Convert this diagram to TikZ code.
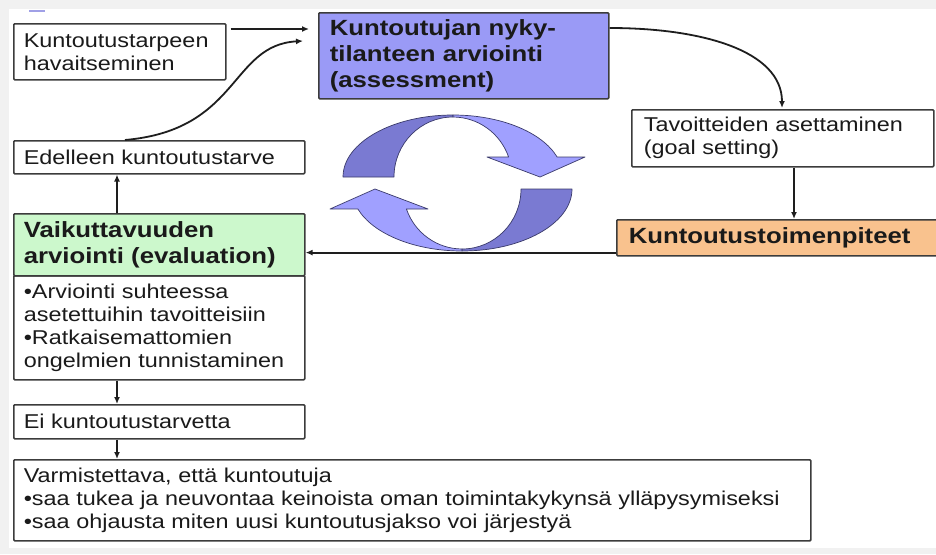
\documentclass[tikz,border=0pt]{standalone}
\usepackage{fontspec}
\setmainfont[FakeStretch=1.17]{Liberation Sans}
\usetikzlibrary{arrows.meta,calc}
\definecolor{assess}{HTML}{9A9AF6}
\definecolor{evalg}{HTML}{CCF8CC}
\definecolor{peach}{HTML}{F9C28E}
\definecolor{boxline}{HTML}{3C3C3C}
\definecolor{lin}{HTML}{1E1E1E}
\definecolor{txt}{HTML}{1A1A1A}
\definecolor{cycdark}{HTML}{7A7AD2}
\definecolor{cyclight}{HTML}{A0A0FF}
\definecolor{cycedge}{HTML}{3A3A6A}
\definecolor{bggray}{HTML}{F1F1F1}
\definecolor{bluemark}{HTML}{A0A0E6}
\tikzset{
  box/.style={draw=boxline, line width=1.6pt, rounded corners=1pt, anchor=north west,
    align=left, inner xsep=10pt, inner ysep=0pt, text=txt,
    font=\fontsize{20}{23}\selectfont},
  bbox/.style={box, font=\fontsize{22}{26}\selectfont\bfseries},
  conn/.style={draw=lin, line width=1.8pt, -{Latex[length=7pt,width=6pt]}},
  cycpart/.style={draw=cycedge, line width=0.7pt, line join=round},
}
\begin{document}
\begin{tikzpicture}[x=1pt,y=-1pt]
\useasboundingbox (0,0) rectangle (936,554);
\clip (0,0) rectangle (936,554);
\fill[bggray] (0,0) rectangle (936,554);
\fill[white] (9,9) rectangle (936,548);
\draw[bluemark, line width=1.5pt] (29,11) -- (45,11);

% cycle arrows
\path[cycpart, fill=cycdark] (343,177) arc[start angle=180, end angle=90, x radius=110pt, y radius=62pt]
  -- (453,117) arc[start angle=90, end angle=180, x radius=59pt, y radius=60pt] -- cycle;
\path[cycpart, fill=cyclight] (453,115) arc[start angle=90, end angle=18.8, x radius=110pt, y radius=62pt]
  -- (585,157) -- (540,177) -- (487,157) -- (508.6,157)
  arc[start angle=19.5, end angle=90, x radius=59pt, y radius=60pt] -- cycle;
\begin{scope}[rotate around={180:(457.5,183)}]
\path[cycpart, fill=cycdark] (343,177) arc[start angle=180, end angle=90, x radius=110pt, y radius=62pt]
  -- (453,117) arc[start angle=90, end angle=180, x radius=59pt, y radius=60pt] -- cycle;
\path[cycpart, fill=cyclight] (453,115) arc[start angle=90, end angle=18.8, x radius=110pt, y radius=62pt]
  -- (585,157) -- (540,177) -- (487,157) -- (508.6,157)
  arc[start angle=19.5, end angle=90, x radius=59pt, y radius=60pt] -- cycle;
\end{scope}

% boxes
\node[box, text width=192pt, minimum height=56pt] (n1) at (13,23) {Kuntoutustarpeen\\havaitseminen};
\node[bbox, fill=assess, inner xsep=11pt, text width=268pt, minimum height=86pt] (n2) at (318,12)
  {Kuntoutujan nyky-\\tilanteen arviointi\\(assessment)};
\node[box, text width=271pt, minimum height=33pt] (n3) at (13,140) {Edelleen kuntoutustarve};
\node[box, inner xsep=12pt, text width=278pt, minimum height=57pt] (n4) at (631,109)
  {Tavoitteiden asettaminen\\(goal setting)};
\node[bbox, fill=peach, inner xsep=12pt, text width=306pt, minimum height=36pt] (n5) at (616,219)
  {Kuntoutustoimenpiteet};
\node[bbox, fill=evalg, text width=271pt, minimum height=62pt] (n6) at (13,213)
  {Vaikuttavuuden\\arviointi (evaluation)};
\node[box, text width=271pt, minimum height=104pt] (n7) at (13,275)
  {•Arviointi suhteessa\\asetettuihin tavoitteisiin\\•Ratkaisemattomien\\ongelmien tunnistaminen};
\node[box, text width=271pt, minimum height=34pt] (n8) at (13,404) {Ei kuntoutustarvetta};
\node[box, text width=777pt, minimum height=81pt] (n9) at (13,459)
  {Varmistettava, että kuntoutuja\\•saa tukea ja neuvontaa keinoista oman toimintakykynsä ylläpysymiseksi\\•saa ohjausta miten uusi kuntoutusjakso voi järjestyä};

% connectors
\draw[conn] ($(n1.north east)+(4,6)$) -- ($(n2.north west)+(-9,17)$);
\draw[conn] ($(n3.north west)+(112,0)$) .. controls (240,130) and (230,45) .. ($(n2.north west)+(-15,29)$);
\draw[conn] ($(n2.north east)+(0,16)$) .. controls (700,28) and (782,50) .. ($(n4.north west)+(151,-1)$);
\coordinate (a) at ($(n4.south west)+(163,0)$);
\draw[conn] (a) -- (a |- n5.north);
\coordinate (b) at ($(n5.south west)+(0,-4)$);
\draw[conn] (b) -- (b -| n6.east);
\coordinate (c) at ($(n6.north west)+(104,0)$);
\draw[conn] (c) -- (c |- n3.south);
\coordinate (d) at ($(n7.south west)+(104,0)$);
\draw[conn] (d) -- (d |- n8.north);
\coordinate (e) at ($(n8.south west)+(104,0)$);
\draw[conn] (e) -- (e |- n9.north);
\end{tikzpicture}
\end{document}
